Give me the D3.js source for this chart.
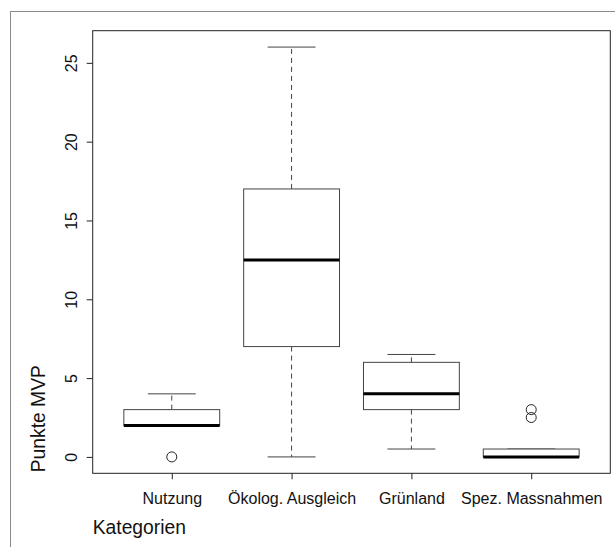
<!DOCTYPE html>
<html>
<head>
<meta charset="utf-8">
<script src="https://cdn.jsdelivr.net/npm/d3@7"></script>
<style>
  html, body { margin: 0; padding: 0; background: #fff; }
  svg { display: block; font-family: "Liberation Sans", Arial, Helvetica, sans-serif; }
</style>
</head>
<body>
<svg id="chart" width="615" height="547"></svg>
<script>
// ---- data ----
const categories = ["Nutzung", "Ökolog. Ausgleich", "Grünland", "Spez. Massnahmen"];
const lowerWhisker = [2, 0, 0.5, 0];
const q1 = [2, 7, 3, 0];
const median = [2, 12.5, 4, 0];
const q3 = [3, 17, 6, 0.5];
const upperWhisker = [4, 26, 6.5, 0.5];
const outliers = [[0], [], [], [2.5, 3]];
const yTicks = [0, 5, 10, 15, 20, 25];
const xLabel = "Kategorien";
const yLabel = "Punkte MVP";

// ---- layout ----
const svg = d3.select("#chart");
const plot = { left: 92.7, right: 610.3, top: 30.7, bottom: 473.3 };

const x = d3.scaleLinear().domain([0.34, 4.66]).range([plot.left, plot.right]);
const y = d3.scaleLinear().domain([-1.04, 27.04]).range([plot.bottom, plot.top]);
const boxW = 0.8, capW = 0.4;

// outer figure frame
svg.append("rect")
  .attr("x", 10.5).attr("y", 11.5).attr("width", 700).attr("height", 700)
  .attr("fill", "none").attr("stroke", "#8a8a8a").attr("stroke-width", 1);

const g = svg.append("g");

const data = categories.map((c, i) => ({
  cat: c, i: i + 1,
  lw: lowerWhisker[i], q1: q1[i], med: median[i], q3: q3[i], uw: upperWhisker[i],
  out: outliers[i]
}));

const strokeCol = "#444";

data.forEach(d => {
  // whiskers (dashed)
  g.append("line")
    .attr("x1", x(d.i)).attr("x2", x(d.i))
    .attr("y1", y(d.q3)).attr("y2", y(d.uw))
    .attr("stroke", strokeCol).attr("stroke-dasharray", "5,4");
  g.append("line")
    .attr("x1", x(d.i)).attr("x2", x(d.i))
    .attr("y1", y(d.q1)).attr("y2", y(d.lw))
    .attr("stroke", strokeCol).attr("stroke-dasharray", "5,4");
  // caps
  [d.uw, d.lw].forEach(v => {
    g.append("line")
      .attr("x1", x(d.i - capW / 2)).attr("x2", x(d.i + capW / 2))
      .attr("y1", y(v)).attr("y2", y(v))
      .attr("stroke", strokeCol);
  });
  // box
  g.append("rect")
    .attr("x", x(d.i - boxW / 2)).attr("width", x(d.i + boxW / 2) - x(d.i - boxW / 2))
    .attr("y", y(d.q3)).attr("height", y(d.q1) - y(d.q3))
    .attr("fill", "#fff").attr("stroke", strokeCol);
  // median
  g.append("line")
    .attr("x1", x(d.i - boxW / 2)).attr("x2", x(d.i + boxW / 2))
    .attr("y1", y(d.med)).attr("y2", y(d.med))
    .attr("stroke", "#000").attr("stroke-width", 3);
  // outliers
  d.out.forEach(v => {
    g.append("circle")
      .attr("cx", x(d.i)).attr("cy", y(v)).attr("r", 5)
      .attr("fill", "none").attr("stroke", "#222");
  });
});

// plot frame
svg.append("rect")
  .attr("x", plot.left).attr("y", plot.top)
  .attr("width", plot.right - plot.left).attr("height", plot.bottom - plot.top)
  .attr("fill", "none").attr("stroke", "#222").attr("stroke-width", 1);

// y axis
const yAxis = d3.axisLeft(y).tickValues(yTicks).tickSize(6).tickSizeOuter(0).tickFormat(d3.format("d"));
const ya = svg.append("g").attr("transform", `translate(${plot.left},0)`).call(yAxis);
ya.select(".domain").remove();
ya.selectAll(".tick line").attr("stroke", "#222");
ya.selectAll(".tick text")
  .attr("transform", "rotate(-90)")
  .attr("x", 0).attr("y", -15.5).attr("dy", null)
  .attr("text-anchor", "middle")
  .attr("font-size", 16).attr("font-family", "Liberation Sans, Arial, sans-serif")
  .attr("fill", "#111");

// x axis
const xAxis = d3.axisBottom(x).tickValues(data.map(d => d.i)).tickSize(6).tickSizeOuter(0)
  .tickFormat((d) => categories[d - 1]);
const xa = svg.append("g").attr("transform", `translate(0,${plot.bottom})`).call(xAxis);
xa.select(".domain").remove();
xa.selectAll(".tick line").attr("stroke", "#222");
xa.selectAll(".tick text")
  .attr("y", 31).attr("dy", null)
  .attr("font-size", 16).attr("font-family", "Liberation Sans, Arial, sans-serif")
  .attr("fill", "#111");

// axis titles (both left/bottom-aligned to the plot region)
svg.append("text")
  .attr("x", plot.left).attr("y", 534)
  .attr("font-size", 19.3).attr("fill", "#111")
  .text(xLabel);

svg.append("text")
  .attr("transform", `translate(45,${plot.bottom - 1}) rotate(-90)`)
  .attr("text-anchor", "start")
  .attr("font-size", 19.3).attr("fill", "#111")
  .text(yLabel);
</script>
</body>
</html>
